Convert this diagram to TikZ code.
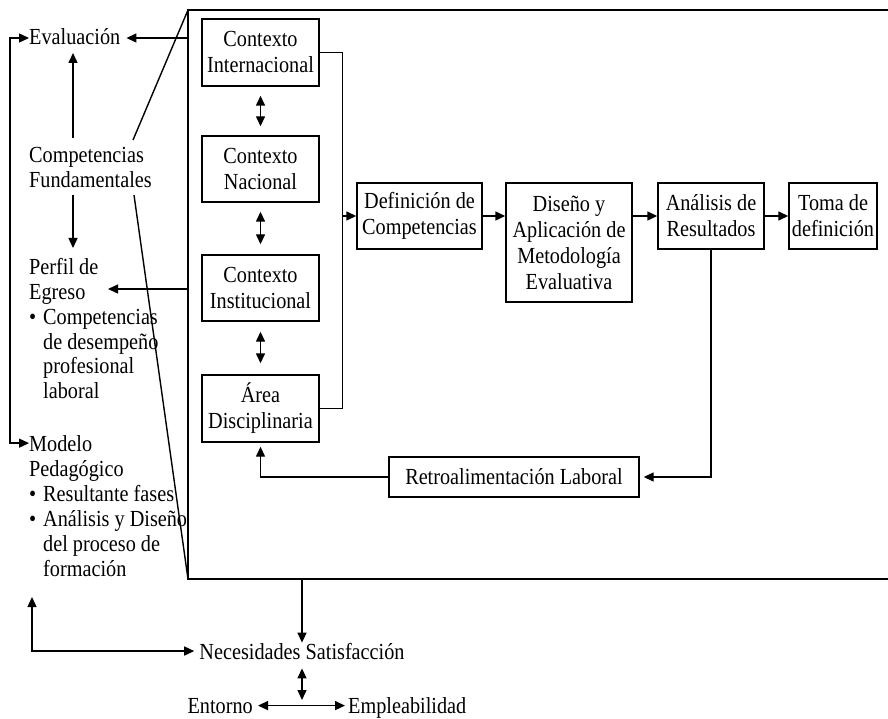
\documentclass[tikz,border=0pt]{standalone}
\usepackage{fontspec}
\setmainfont{Liberation Serif}[FakeStretch=0.88]
\usetikzlibrary{arrows.meta}
\begin{document}
\begin{tikzpicture}[x=1pt,y=-1pt,
  every node/.style={font=\fontsize{23}{26}\selectfont},
  box/.style={draw, line width=1.4pt, align=center, inner sep=0pt},
  txt/.style={inner sep=0pt, anchor=base west},
  ln/.style={line width=1.4pt},
  tip/.tip={Triangle[length=10pt,width=9pt]},
  arr/.style={ln, -tip},
  dbl/.style={ln, tip-tip},
]
\useasboundingbox (0,0) rectangle (888,719);

% ---- context boxes inside the frame
\node[box, minimum width=117pt, minimum height=67pt] (ci)   at (260.5,52.5)  {Contexto\\Internacional};
\node[box, minimum width=117pt, minimum height=66pt] (cn)   at (260.5,169)   {Contexto\\Nacional};
\node[box, minimum width=117pt, minimum height=66pt] (cins) at (260.5,288)   {Contexto\\Institucional};
\node[box, minimum width=117pt, minimum height=67pt] (area) at (260.5,408.5) {Área\\Disciplinaria};

% ---- process chain
\node[box, minimum width=125pt, minimum height=66pt]  (def)  at (419.5,216) {Definición de\\Competencias};
\node[box, minimum width=126pt, minimum height=119pt] (dis)  at (569,242.5) {Diseño y\\Aplicación de\\Metodología\\Evaluativa};
\node[box, minimum width=106pt, minimum height=66pt]  (ana)  at (711,216)   {Análisis de\\Resultados};
\node[box, minimum width=88pt,  minimum height=66pt]  (toma) at (833,216)   {Toma de\\definición};
\node[box, minimum width=250pt, minimum height=40pt]  (retro) at (514,477)  {Retroalimentación Laboral};

% ---- left column texts
\node[txt] (eval) at (29,45) {Evaluación};
\node[txt] (c1) at (29,163) {Competencias};
\node[txt] (c2) at (29,188) {Fundamentales};

\node[txt] (p1) at (29,274) {Perfil de};
\node[txt] (p2) at (29,299) {Egreso};
\node[txt] (p3) at (29,324) {\makebox[14pt][l]{\textbullet}Competencias};
\node[txt] (p4) at (43,349) {de desempeño};
\node[txt] (p5) at (43,373) {profesional};
\node[txt] (p6) at (43,398) {laboral};

\node[txt] (m1) at (29,451) {Modelo};
\node[txt] (m2) at (29,476) {Pedagógico};
\node[txt] (m3) at (29,501) {\makebox[14pt][l]{\textbullet}Resultante fases};
\node[txt] (m4) at (29,526) {\makebox[14pt][l]{\textbullet}Análisis y Diseño};
\node[txt] (m5) at (43,551) {del proceso de};
\node[txt] (m6) at (43,576) {formación};

% ---- bottom texts
\node[inner sep=0pt, anchor=base] (nec) at (302,659) {Necesidades Satisfacción};
\node[inner sep=0pt, anchor=base east] (ent) at (253,713) {Entorno};
\node[inner sep=0pt, anchor=base west] (emp) at (348,713) {Empleabilidad};

% ---- frame (open to the right) and its two flaring lines
\coordinate (ftl) at (188,10);
\coordinate (fbl) at (188,579);
\coordinate (ftr) at (892,10);
\coordinate (fbr) at (892,579);
\draw[ln] (ftr) -- (ftl) -- (fbl) -- (fbr);
\coordinate (d1) at (133,140);
\coordinate (d2) at (134,195);
\draw[ln] (ftl) -- (d1);
\draw[ln] (d2) -- (fbl);

% ---- links between the context boxes
\draw[dbl, shorten <=9pt, shorten >=9pt] (ci.south) -- (cn.north);
\draw[dbl, shorten <=9pt, shorten >=10pt] (cn.south) -- (cins.north);
\draw[dbl, shorten <=10pt, shorten >=11pt] (cins.south) -- (area.north);

% ---- collecting bus into the chain
\draw[ln] (ci.east) -- ++(23,0) |- (area.east);
\coordinate (bj) at (342,216);
\draw[arr] (bj) -- (def.west);
\draw[arr] (def.east) -- (def.east -| dis.west);
\draw[arr] (ana.west -| dis.east) -- (ana.west);
\draw[arr] (ana.east) -- (toma.west);

% ---- feedback loop
\draw[arr, shorten >=4pt] (ana.south) |- (retro.east);
\draw[arr, shorten >=4pt] (retro.west) -| (area.south);

% ---- frame outputs to the left column
\coordinate (fe) at (188,38);
\draw[arr, shorten >=6pt] (fe) -- (eval.east |- fe);
\coordinate (fp) at (188,289);
\coordinate (pe) at (108,289);
\draw[arr] (fp) -- (pe);

% ---- left column links
\coordinate (ca) at (73,138);
\coordinate (ea) at (73,53);
\draw[arr] (ca) -- (ea);
\coordinate (cb) at (73,195);
\coordinate (pa) at (73,248);
\draw[arr] (cb) -- (pa);
\coordinate (lp) at (10,240);
\draw[dbl] (eval.west |- fe) -| (lp) |- (m1.west);

% ---- bottom links
\coordinate (fb) at (302,579);
\draw[arr] (fb) -- (fb |- nec.north);
\coordinate (fm) at (32,597);
\draw[dbl, shorten >=5pt] (fm) |- (nec.west);
\coordinate (jn) at (302,707);
\draw[dbl, shorten <=9pt, shorten >=7pt] (nec.south) -- (jn);
\draw[dbl, shorten <=5pt, shorten >=3pt] (ent.east) -- (emp.west |- ent.east);
\end{tikzpicture}
\end{document}
